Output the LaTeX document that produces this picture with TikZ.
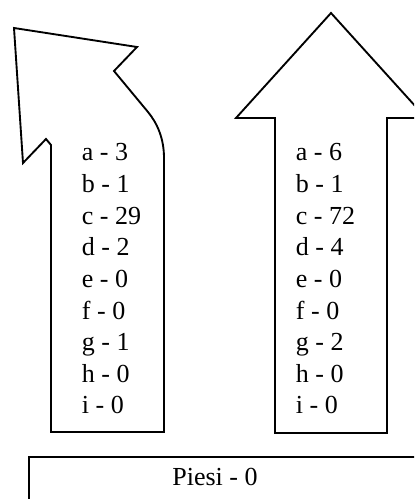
\documentclass[tikz,border=0pt]{standalone}
\usepackage{fontspec}
\setmainfont{Liberation Serif}
\begin{document}
\begin{tikzpicture}[x=0.75pt,y=-0.75pt,line width=1.4pt,
	font=\fontsize{19.5}{23.7}\selectfont]
	% Area del disegno
	\useasboundingbox (0,0) rectangle (414,499);
	\clip (0,0) rectangle (414,499);

	% Freccia con svolta a sinistra
	\draw (51,432) -- (51,145) -- (46,139) -- (23,163) -- (14,28) -- (137,47) -- (114,71)
		-- (148,112) .. controls (157,123) and (164,138) .. (164,158) -- (164,432) -- cycle;

	% Freccia dritta
	\draw (275,433) -- (275,118) -- (236,118) -- (331,13) -- (426,118) -- (387,118)
		-- (387,433) -- cycle;

	% Riquadro in basso
	\draw (29,457) rectangle (440,530);

	% Etichette
	\foreach \t [count=\i from 0] in {a - 3, b - 1, c - 29, d - 2, e - 0, f - 0, g - 1, h - 0, i - 0}
		\node[anchor=base west, inner sep=0pt] (sx\i) at (81,{161+31.6*\i}) {\t};
	\foreach \t [count=\i from 0] in {a - 6, b - 1, c - 72, d - 4, e - 0, f - 0, g - 2, h - 0, i - 0}
		\node[anchor=base west, inner sep=0pt] (dx\i) at (295,{161+31.6*\i}) {\t};
	\node[anchor=base] (piesi) at (215,485) {Piesi - 0};
\end{tikzpicture}
\end{document}
